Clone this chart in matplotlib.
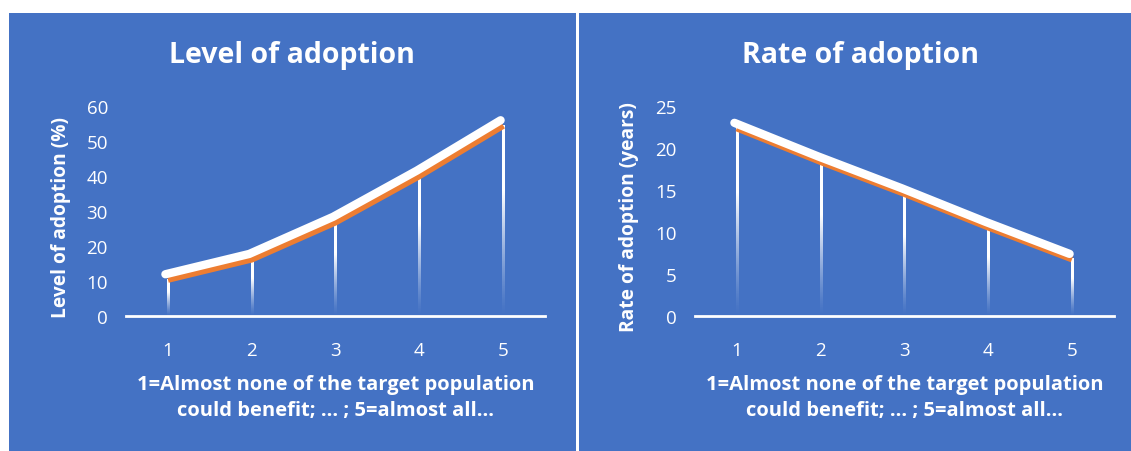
import numpy as np
import matplotlib
matplotlib.use("Agg")
import matplotlib.pyplot as plt
from matplotlib.patches import Rectangle
from matplotlib import transforms

plt.rcParams['font.family'] = ['Open Sans', 'DejaVu Sans']

# Survey scale on the x axis
categories = [1, 2, 3, 4, 5]
x_caption = "1=Almost none of the target population\ncould benefit; ... ; 5=almost all..."

# Level of adoption (%)
level_values = [10.5, 16.3, 26.9, 40.1, 54.5]
level_ticks = [0, 10, 20, 30, 40, 50, 60]

# Rate of adoption (years)
rate_values = [22.4, 18.4, 14.6, 10.6, 6.8]
rate_ticks = [0, 5, 10, 15, 20, 25]

BLUE = '#4472C4'
ORANGE = '#ED7D31'

W, H = 1131, 452
fig = plt.figure(figsize=(W / 100, H / 100), dpi=100)
fig.patch.set_facecolor('white')

# blue chart-area panels
fig.add_artist(Rectangle((9 / W, 0), 567 / W, (H - 14) / H,
                         transform=fig.transFigure, facecolor=BLUE, edgecolor='none', zorder=0))
fig.add_artist(Rectangle((579 / W, 0), (W - 579) / W, (H - 14) / H,
                         transform=fig.transFigure, facecolor=BLUE, edgecolor='none', zorder=0))

# vertical gradient for the drop lines: opaque white at the top, clear at the axis
n = 200
t = np.linspace(1, 0, n)
grad = np.ones((n, 1, 4))
grad[:, 0, 3] = np.clip(t / 0.65, 0, 1) ** 1.3


def panel(left_px, values, ticks, title, ylabel, title_x, ylabel_x):
    ax = fig.add_axes([left_px / W, (H - 317) / H, 419 / W, 210 / H])
    ax.set_facecolor('none')
    for s in ['top', 'right', 'left']:
        ax.spines[s].set_visible(False)
    ax.spines['bottom'].set_color('white')
    ax.spines['bottom'].set_linewidth(2)
    ax.spines['bottom'].set_zorder(5)

    half = 1.1 * 5 / 419  # ~1 px either side, in data units
    for x, v in zip(categories, values):
        ax.imshow(grad, extent=[x - half, x + half, 0, v], aspect='auto',
                  interpolation='bilinear', zorder=2)

    ax.plot(categories, values, color=ORANGE, lw=5.2, solid_capstyle='butt',
            solid_joinstyle='round', zorder=3)
    shadow = transforms.offset_copy(ax.transData, fig=fig, x=-2.5, y=5, units='dots')
    ax.plot(categories, values, color='white', lw=6, solid_capstyle='round',
            solid_joinstyle='round', transform=shadow, zorder=4)

    ax.set_xlim(0.5, 5.5)
    ax.set_ylim(ticks[0], ticks[-1])
    ax.set_xticks(categories)
    ax.set_yticks(ticks)
    ax.tick_params(length=0, colors='white', labelsize=13.5)
    ax.tick_params(axis='x', pad=18)
    ax.tick_params(axis='y', pad=13)

    ax.set_xlabel(x_caption, color='white', fontsize=14.5, fontweight='bold',
                  labelpad=11, linespacing=1.38)
    fig.text(ylabel_x / W, (H - 217) / H, ylabel, rotation=90, color='white',
             fontsize=13.8, fontweight='bold', ha='center', va='center')
    fig.text(title_x / W, (H - 55) / H, title, color='white', fontsize=20.5,
             fontweight='bold', ha='center', va='center')
    return ax


panel(126, level_values, level_ticks, 'Level of adoption', 'Level of adoption (%)', 292, 61)
panel(695, rate_values, rate_ticks, 'Rate of adoption', 'Rate of adoption (years)', 860, 629)

fig.savefig('out.png', dpi=100, facecolor=fig.get_facecolor())
